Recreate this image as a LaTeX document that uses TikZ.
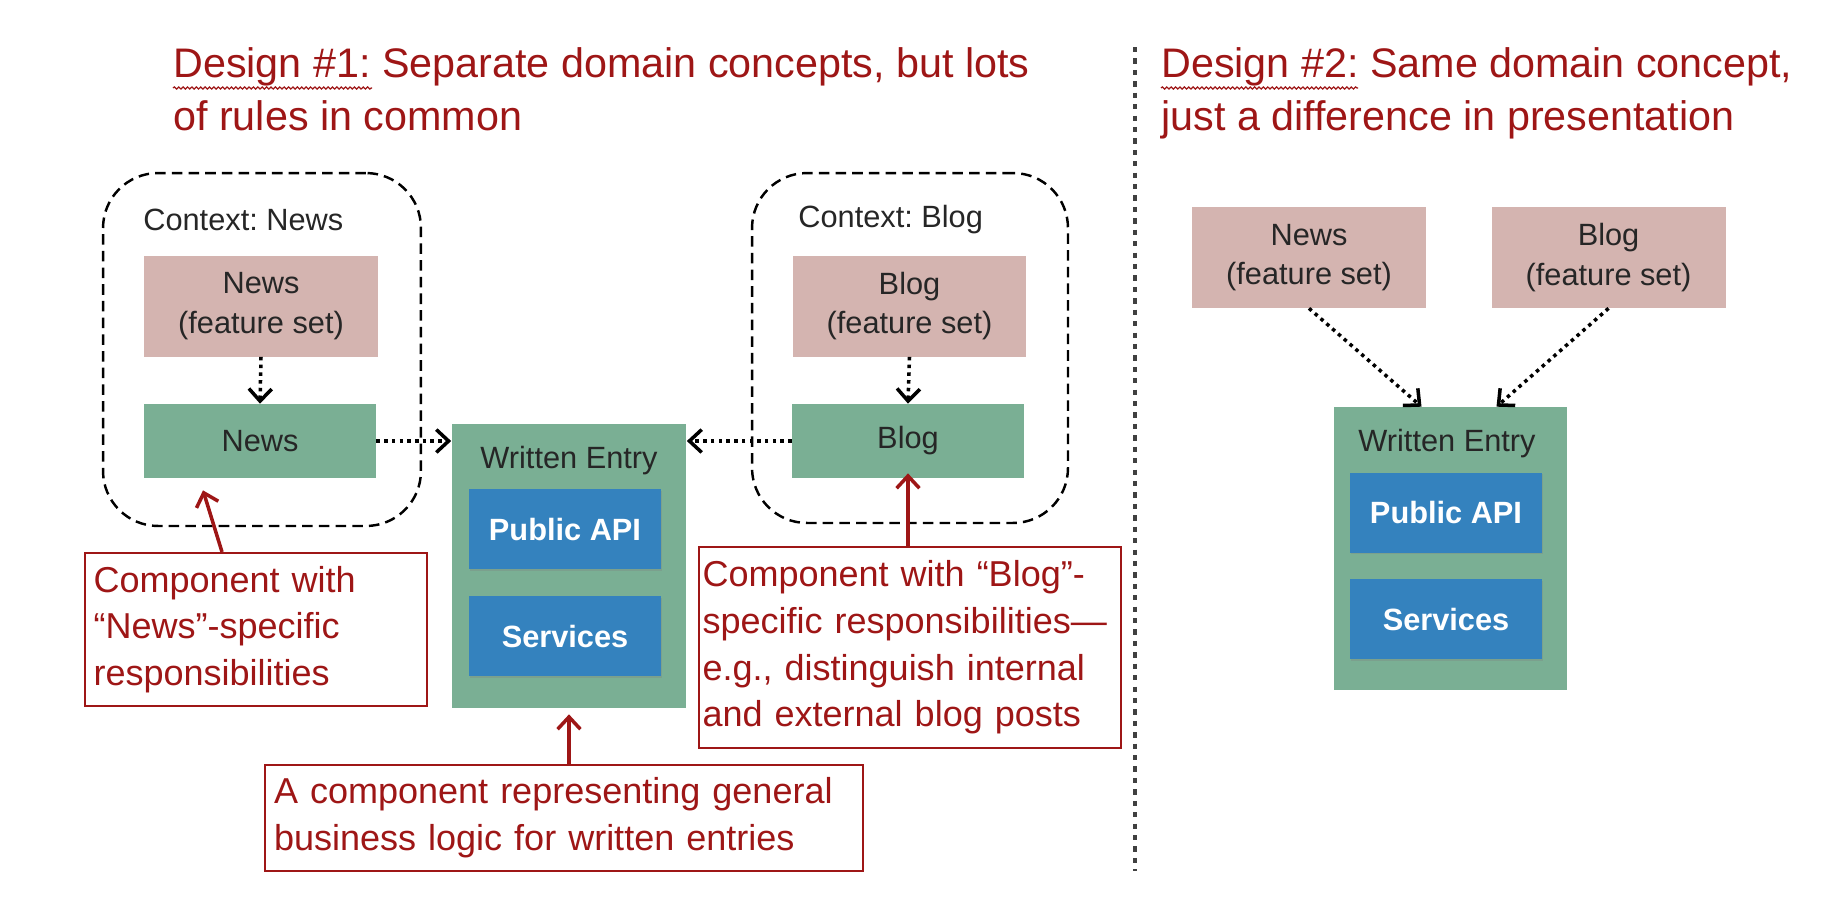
\documentclass[tikz,border=0pt]{standalone}
\usepackage{fontspec}
\setmainfont{Liberation Sans}
\usetikzlibrary{arrows.meta,shadows,decorations.pathmorphing}

\begin{document}
\frenchspacing
\begin{tikzpicture}[x=0.02cm, y=-0.02cm,
    every node/.style={inner sep=0pt, text=black!85, font=\fontsize{17.5}{22.6}\selectfont},
    ctx/.style={draw, line width=1.4pt, dash pattern=on 6pt off 3.5pt, rounded corners=1.1cm},
    feat/.style={fill=featpink, minimum width=4.68cm, minimum height=2.02cm, align=center},
    comp/.style={fill=compgreen, minimum width=4.64cm, minimum height=1.48cm},
    entrybox/.style={fill=compgreen, minimum width=4.7cm, minimum height=5.68cm},
    part/.style={fill=partblue, minimum width=3.84cm, minimum height=1.6cm, text=white,
        font=\fontsize{17.5}{20}\selectfont\bfseries,
        drop shadow={shadow xshift=0.6pt, shadow yshift=-0.9pt, opacity=0.3}},
    dep/.style={line width=2pt, dash pattern=on 2pt off 2.4pt,
        -{Straight Barb[length=7pt, width=13pt, line width=2pt]}},
    note/.style={draw=notered, line width=1.2pt, text=notered, align=left, inner xsep=5pt,
        font=\fontsize{20.5}{26.6}\selectfont},
    pointer/.style={notered, line width=2pt, -{Straight Barb[length=7pt, width=13pt, line width=2pt]}},
    title/.style={text=notered, align=left, font=\fontsize{23.5}{30}\selectfont}]
    \definecolor{featpink}{RGB}{212,180,176}
    \definecolor{compgreen}{RGB}{122,175,148}
    \definecolor{partblue}{RGB}{52,130,190}
    \definecolor{notered}{RGB}{158,22,22}

    \useasboundingbox (0,0) rectangle (1834,904);

    % titles (anchored on the baseline of their last line)
    \node[title, anchor=base west] (title1) at (173,130) {Design \#1: Separate domain concepts, but lots\\of rules in common};
    \node[title, anchor=base west] (title2) at (1161,130) {Design \#2: Same domain concept,\\just a difference in presentation};
    \draw[notered, line width=0.7pt, decorate, decoration={snake, amplitude=0.6pt, segment length=2.5pt}] (173,88) -- (372,88);
    \draw[notered, line width=0.7pt, decorate, decoration={snake, amplitude=0.6pt, segment length=2.5pt}] (1161,88) -- (1358,88);

    % divider
    \draw[black!75, line width=1.8pt, dash pattern=on 3pt off 3.5pt] (1135,47) -- (1135,871);

    % design 1: contexts
    \node[ctx, minimum width=6.36cm, minimum height=7.06cm] (ctxnews) at (262,349.5) {};
    \node[anchor=west] (ctxnewslbl) at (143,220) {Context: News};
    \node[feat] (newsfs) at (261,306) {News\\(feature set)};
    \node[comp] (newsc) at (260,441) {News};

    \node[ctx, minimum width=6.32cm, minimum height=7.0cm] (ctxblog) at (910,348) {};
    \node[anchor=west] (ctxbloglbl) at (798,220) {Context: Blog};
    \node[feat] (blogfs) at (909.5,306) {Blog\\(feature set)};
    \node[comp] (blogc) at (908,441) {Blog};

    % design 1: shared component
    \node[entrybox] (entry) at (569,566) {};
    \node (entrylbl) at (569,461) {Written Entry};
    \node[part] (api) at (565,529) {Public API};
    \node[part] (svc) at (565,636) {Services};

    % design 1: notes
    \node[note, text width=6.5cm, minimum height=3.06cm] (newsnote) at (256,629.5) {Component with\\“News”-specific\\responsibilities};
    \node[note, text width=8.3cm, inner xsep=2pt, minimum height=4.02cm] (blognote) at (910,647.5) {Component with “Blog”-\\specific responsibilities—\\e.g., distinguish internal\\and external blog posts};
    \node[note, text width=11.6cm, minimum height=2.12cm] (entrynote) at (564,818) {A component representing general\\business logic for written entries};

    % design 2
    \node[feat] (newsfs2) at (1309,257.5) {News\\(feature set)};
    \node[feat] (blogfs2) at (1608.5,257.5) {Blog\\(feature set)};
    \node[entrybox, minimum width=4.66cm, minimum height=5.66cm] (entry2) at (1450.5,548.5) {};
    \node (entrylbl2) at (1447,444) {Written Entry};
    \node[part] (api2) at (1446,512.5) {Public API};
    \node[part] (svc2) at (1446,619) {Services};

    % dependencies
    \draw[dep] (newsfs.south) -- (newsc.north);
    \draw[dep] (blogfs.south) -- (blogc.north);
    \draw[dep] (newsc.east) -- (newsc.east -| entry.west);
    \draw[dep] (blogc.west) -- (blogc.west -| entry.east);
    \draw[dep] (newsfs2.south) -- ([xshift=-0.58cm]entry2.north);
    \draw[dep] (blogfs2.south) -- ([xshift=0.92cm]entry2.north);

    % pointers from notes
    \draw[pointer] ([xshift=-0.68cm]newsnote.north) -- ([xshift=-1.14cm, yshift=-0.24cm]newsc.south);
    \draw[pointer] (blognote.north -| blogc.south) -- ([yshift=0.1cm]blogc.south);
    \draw[pointer] (entrynote.north -| entry.south) -- ([yshift=-0.12cm]entry.south);
\end{tikzpicture}
\end{document}
